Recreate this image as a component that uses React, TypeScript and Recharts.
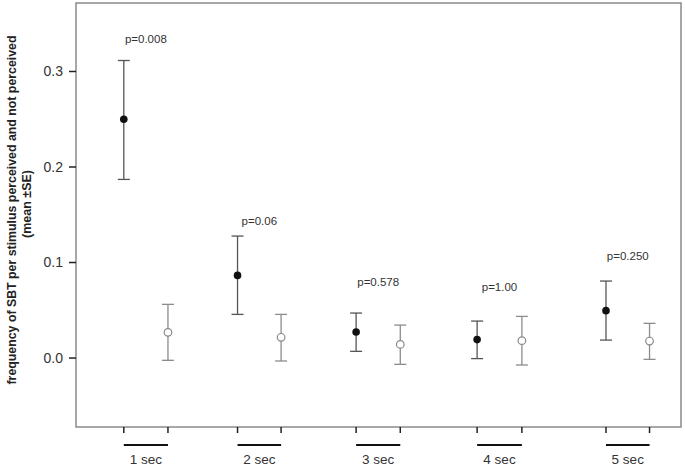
import { ScatterChart, Scatter, XAxis, YAxis, ErrorBar, ReferenceArea } from "recharts";

const durations = ["1 sec", "2 sec", "3 sec", "4 sec", "5 sec"];
// x positions of the two conditions inside each duration group (axis units 0-100)
const perceivedPos = [7.9, 26.7, 46.3, 66.3, 87.6];
const notPerceivedPos = [15.2, 33.9, 53.6, 73.7, 94.8];

const perceivedMean = [0.25, 0.0865, 0.0272, 0.0193, 0.0496];
const perceivedUpper = [0.3115, 0.1277, 0.0471, 0.0387, 0.0806];
const perceivedLower = [0.187, 0.0457, 0.007, -0.0006, 0.0188];

const notPerceivedMean = [0.0269, 0.0217, 0.0143, 0.0182, 0.0178];
const notPerceivedUpper = [0.0562, 0.0457, 0.0345, 0.0436, 0.0363];
const notPerceivedLower = [-0.0024, -0.0031, -0.0066, -0.0073, -0.0014];

const pValues = ["p=0.008", "p=0.06", "p=0.578", "p=1.00", "p=0.250"];
const pLabelY = [0.3345, 0.143, 0.0792, 0.074, 0.1065];

const yTicks = [0, 0.1, 0.2, 0.3];
const xTicks = [...perceivedPos, ...notPerceivedPos].sort((a, b) => a - b);

const X_DOMAIN: [number, number] = [0, 100];
const Y_DOMAIN: [number, number] = [-0.0722, 0.3717];
const CHART_W = 685;
const CHART_H = 466;
const MARGIN = { top: 3, right: 4, left: 0, bottom: 0 };
const Y_AXIS_W = 76;
const PLOT_W = CHART_W - MARGIN.left - MARGIN.right - Y_AXIS_W;
const PX_PER_UNIT = PLOT_W / (X_DOMAIN[1] - X_DOMAIN[0]);

const perceivedData = perceivedPos.map((x, i) => ({
  x,
  y: perceivedMean[i],
  err: [perceivedMean[i] - perceivedLower[i], perceivedUpper[i] - perceivedMean[i]],
}));

const notPerceivedData = notPerceivedPos.map((x, i) => ({
  x,
  y: notPerceivedMean[i],
  err: [notPerceivedMean[i] - notPerceivedLower[i], notPerceivedUpper[i] - notPerceivedMean[i]],
}));

const pData = pValues.map((label, i) => ({
  x: (perceivedPos[i] + notPerceivedPos[i]) / 2,
  y: pLabelY[i],
  label,
}));

const font = "'Liberation Sans', Arial, sans-serif";

function GroupTick(props: any) {
  const { x, y, payload } = props;
  const i = perceivedPos.indexOf(payload.value);
  if (i < 0) return <g />;
  const w = (notPerceivedPos[i] - perceivedPos[i]) * PX_PER_UNIT;
  return (
    <g>
      <line x1={x} x2={x + w} y1={y + 12} y2={y + 12} stroke="#111" strokeWidth={2} />
      <text
        x={x + w / 2}
        y={y + 26}
        textAnchor="middle"
        dominantBaseline="central"
        fontSize={13.5}
        fontFamily={font}
        fill="#333"
      >
        {durations[i]}
      </text>
    </g>
  );
}

function YLabel() {
  const cy = 210;
  return (
    <g fontFamily={font} fill="#222" fontSize={12.5} fontWeight="bold">
      <text
        x={12}
        y={cy}
        transform={`rotate(-90 12 ${cy})`}
        textAnchor="middle"
        dominantBaseline="central"
        textLength={349}
        lengthAdjust="spacingAndGlyphs"
      >
        frequency of SBT per stimulus perceived and not perceived
      </text>
      <text
        x={27}
        y={cy - 6}
        transform={`rotate(-90 27 ${cy - 6})`}
        textAnchor="middle"
        dominantBaseline="central"
      >
        (mean ±SE)
      </text>
    </g>
  );
}

export default function App() {
  return (
    <div style={{ position: "absolute", left: 0, top: 0, width: CHART_W, height: CHART_H, background: "#fff" }}>
      <ScatterChart width={CHART_W} height={CHART_H} margin={MARGIN}>
        <XAxis
          type="number"
          dataKey="x"
          domain={X_DOMAIN}
          ticks={xTicks}
          interval={0}
          height={39}
          axisLine={false}
          tickSize={6}
          tickMargin={0}
          tickLine={{ stroke: "#222", strokeWidth: 1.5 }}
          tick={<GroupTick />}
        />
        <YAxis
          type="number"
          dataKey="y"
          domain={Y_DOMAIN}
          ticks={yTicks}
          width={Y_AXIS_W}
          axisLine={false}
          tickSize={7}
          tickMargin={6}
          tickLine={{ stroke: "#222", strokeWidth: 1.5 }}
          tickFormatter={(v: number) => v.toFixed(1)}
          tick={{ fill: "#333", fontSize: 14, fontFamily: font }}
          label={{ content: () => <YLabel /> }}
        />
        <ReferenceArea
          x1={X_DOMAIN[0]}
          x2={X_DOMAIN[1]}
          y1={Y_DOMAIN[0]}
          y2={Y_DOMAIN[1]}
          fill="none"
          stroke="#8a8a8a"
          strokeWidth={1.5}
          ifOverflow="visible"
        />
        <Scatter
          data={perceivedData}
          isAnimationActive={false}
          shape={(p: any) => <circle cx={p.cx} cy={p.cy} r={3.8} fill="#111" />}
        >
          <ErrorBar dataKey="err" direction="y" width={6} stroke="#555" strokeWidth={1.3} isAnimationActive={false} />
        </Scatter>
        <Scatter
          data={notPerceivedData}
          isAnimationActive={false}
          shape={(p: any) => <circle cx={p.cx} cy={p.cy} r={3.8} fill="#fff" stroke="#888" strokeWidth={1.2} />}
        >
          <ErrorBar dataKey="err" direction="y" width={6} stroke="#8c8c8c" strokeWidth={1.3} isAnimationActive={false} />
        </Scatter>
        <Scatter
          data={pData}
          isAnimationActive={false}
          shape={(p: any) => (
            <text
              x={p.cx}
              y={p.cy}
              textAnchor="middle"
              dominantBaseline="central"
              fontSize={11.5}
              fontFamily={font}
              fill="#333"
              stroke="none"
            >
              {p.payload.label}
            </text>
          )}
        />
      </ScatterChart>
    </div>
  );
}
